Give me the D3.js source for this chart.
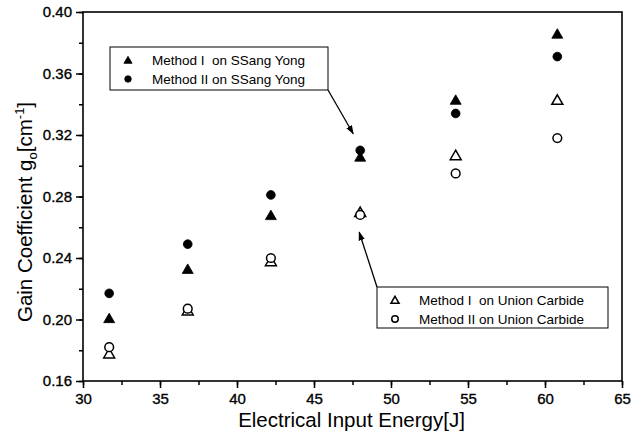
<!DOCTYPE html>
<html>
<head>
<meta charset="utf-8">
<script src="https://cdn.jsdelivr.net/npm/d3@7"></script>
<style>
  body { margin: 0; background: #fff; }
  svg { display: block; font-family: "Liberation Sans", Arial, sans-serif; }
</style>
</head>
<body>
<svg id="chart" width="632" height="439"></svg>
<script>
// input energy [J]
var energy = [31.7, 36.8, 42.2, 48.0, 54.2, 60.8];

// gain coefficient g_o [cm^-1]
var method1SsangYong = [0.201, 0.233, 0.268, 0.306, 0.343, 0.386];
var method2SsangYong = [0.217, 0.249, 0.281, 0.310, 0.334, 0.371];
var method1Union = [0.178, 0.206, 0.238, 0.270, 0.307, 0.343];
var method2Union = [0.182, 0.207, 0.240, 0.268, 0.295, 0.318];

var xTicks = [30, 35, 40, 45, 50, 55, 60, 65];
var yTicks = [0.16, 0.20, 0.24, 0.28, 0.32, 0.36, 0.40];

var series = [
    { name: "Method I  on SSang Yong", values: method1SsangYong, shape: "triangle", filled: true },
    { name: "Method II on SSang Yong", values: method2SsangYong, shape: "circle", filled: true },
    { name: "Method I  on Union Carbide", values: method1Union, shape: "triangle", filled: false },
    { name: "Method II on Union Carbide", values: method2Union, shape: "circle", filled: false }
];

var rect = { x: 83, y: 12, w: 539, h: 369 };

var svg = d3.select("#chart");

var scaleX = d3.scaleLinear().domain([30, 65]).range([0, rect.w]);
var scaleY = d3.scaleLinear().domain([0.16, 0.40]).range([rect.h, 0]);

var g = svg.append("g")
    .attr("transform", "translate(" + rect.x + "," + rect.y + ")");

// minor ticks first, major on top
var xMinor = d3.range(30, 65.01, 2.5);
var yMinor = d3.range(0.16, 0.4001, 0.02);

g.append("g")
    .attr("transform", "translate(0," + rect.h + ")")
    .call(d3.axisBottom(scaleX).tickValues(xMinor).tickSize(4).tickFormat(""))
    .call(function (a) { a.select(".domain").remove(); });

g.append("g")
    .call(d3.axisLeft(scaleY).tickValues(yMinor).tickSize(4).tickFormat(""))
    .call(function (a) { a.select(".domain").remove(); });

var xAxis = g.append("g")
    .attr("transform", "translate(0," + rect.h + ")")
    .call(d3.axisBottom(scaleX).tickValues(xTicks).tickSize(7).tickPadding(5).tickFormat(d3.format("d")));

var yAxis = g.append("g")
    .call(d3.axisLeft(scaleY).tickValues(yTicks).tickSize(7).tickPadding(4).tickFormat(d3.format(".2f")));

[xAxis, yAxis].forEach(function (a) {
    a.selectAll(".domain").remove();
    a.selectAll("text")
        .attr("fill", "#000")
        .attr("stroke", "#000")
        .attr("stroke-width", 0.35)
        .style("font-size", "15px")
        .style("font-family", "Liberation Sans, Arial, sans-serif");
});
g.selectAll(".tick line").attr("stroke", "#000").attr("stroke-width", 1.5);

// frame
g.append("rect")
    .attr("width", rect.w)
    .attr("height", rect.h)
    .attr("fill", "none")
    .attr("stroke", "#000")
    .attr("stroke-width", 1.6);

function drawMarker(sel, s, k) {
    k = k || 1;
    var sym = s.shape === "triangle"
        ? d3.symbol().type(d3.symbolTriangle).size(52 * k)
        : d3.symbol().type(d3.symbolCircle).size(60 * k);
    sel.attr("d", sym())
        .attr("fill", s.filled ? "#000" : "#fff")
        .attr("stroke", "#000")
        .attr("stroke-width", s.filled ? 0.8 : 1.5);
}

// open ones first so the filled marks sit on top
[2, 3, 0, 1].forEach(function (i) {
    var s = series[i];
    g.append("g").selectAll("path")
        .data(s.values)
      .enter().append("path")
        .attr("transform", function (d, j) {
            var dy = s.shape === "triangle" ? 1.5 : 0;
            return "translate(" + scaleX(energy[j]) + "," + (scaleY(d) + dy) + ")";
        })
        .call(drawMarker, s);
});

// legends
function legend(x, y, w, h, items) {
    var lg = svg.append("g").attr("transform", "translate(" + x + "," + y + ")");
    lg.append("rect")
        .attr("width", w).attr("height", h)
        .attr("fill", "#fff").attr("stroke", "#000").attr("stroke-width", 1);
    items.forEach(function (s, i) {
        var cy = 13 + i * 19;
        lg.append("path")
            .attr("transform", "translate(18," + (cy + (s.shape === "triangle" ? 1 : 0)) + ")")
            .call(drawMarker, s, 0.55);
        lg.append("text")
            .attr("x", 42).attr("y", cy + 5)
            .attr("font-size", "13.5px")
            .text(s.name)
            .style("white-space", "pre");
    });
}

legend(110, 47, 218, 43, [series[0], series[1]]);
legend(377, 287, 231, 41, [series[2], series[3]]);

// arrows
svg.append("defs").append("marker")
    .attr("id", "head")
    .attr("viewBox", "0 0 10 10")
    .attr("refX", 9).attr("refY", 5)
    .attr("markerWidth", 7).attr("markerHeight", 7)
    .attr("orient", "auto")
  .append("path")
    .attr("d", "M0,1.5L10,5L0,8.5Z")
    .attr("fill", "#000");

svg.append("line")
    .attr("x1", 328).attr("y1", 90)
    .attr("x2", scaleX(energy[3]) + rect.x - 7).attr("y2", scaleY(0.313) + rect.y - 12)
    .attr("stroke", "#000").attr("stroke-width", 1.3)
    .attr("marker-end", "url(#head)");

svg.append("line")
    .attr("x1", 377).attr("y1", 287)
    .attr("x2", scaleX(energy[3]) + rect.x - 1).attr("y2", scaleY(0.262) + rect.y + 8)
    .attr("stroke", "#000").attr("stroke-width", 1.3)
    .attr("marker-end", "url(#head)");

// axis titles
svg.append("text")
    .attr("x", rect.x + rect.w / 2 - 1)
    .attr("y", 427)
    .attr("text-anchor", "middle")
    .attr("font-size", "20.5px")
    .text("Electrical Input Energy[J]");

var yt = svg.append("text")
    .attr("transform", "translate(32,212) rotate(-90)")
    .attr("text-anchor", "middle")
    .attr("font-size", "20.5px");
yt.append("tspan").text("Gain Coefficient g");
yt.append("tspan").attr("font-size", "13px").attr("dy", 5).text("o");
yt.append("tspan").attr("dy", -5).text("[cm");
yt.append("tspan").attr("font-size", "13px").attr("dy", -8).text("-1");
yt.append("tspan").attr("dy", 8).text("]");
</script>
</body>
</html>
